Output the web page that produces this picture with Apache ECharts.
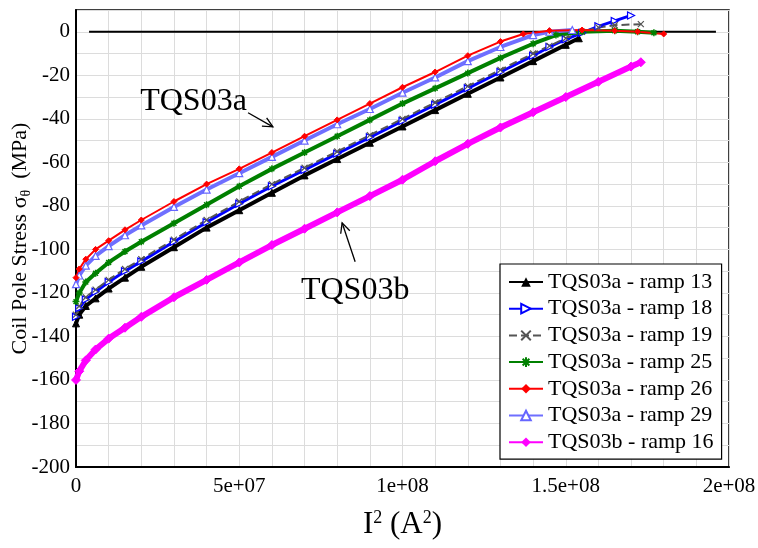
<!DOCTYPE html>
<html>
<head>
<meta charset="utf-8">
<script src="https://cdn.jsdelivr.net/npm/echarts@6/dist/echarts.min.js"></script>
<style>html,body{margin:0;padding:0;background:#fff;}#c{width:758px;height:548px;}</style>
</head>
<body>
<div id="c"></div>
<script>
// ---- data (x in A^2, y in MPa) ----
const ramp13 = [[0,-134],[1e6,-130],[3e6,-126],[6e6,-122.5],[1e7,-118],[1.5e7,-113],[2e7,-108],[3e7,-99],[4e7,-90],[5e7,-82],[6e7,-74],[7e7,-66],[8e7,-58.5],[9e7,-51],[1e8,-43.5],[1.1e8,-36],[1.2e8,-28.5],[1.3e8,-21],[1.4e8,-13.5],[1.5e8,-6],[1.54e8,-3]];
const ramp18 = [[0,-131],[1e6,-127],[3e6,-123],[6e6,-119.5],[1e7,-115],[1.5e7,-110],[2e7,-105.5],[3e7,-96.5],[4e7,-87.5],[5e7,-79],[6e7,-71],[7e7,-63.5],[8e7,-56],[9e7,-48.5],[1e8,-41],[1.1e8,-33.5],[1.2e8,-26],[1.3e8,-18.5],[1.4e8,-11],[1.45e8,-7],[1.5e8,-3.5],[1.55e8,-0.5],[1.6e8,2.5],[1.65e8,5],[1.7e8,7.5]];
const ramp19 = [[0,-130],[1e6,-126],[3e6,-122],[6e6,-118.5],[1e7,-114],[1.5e7,-109],[2e7,-104.5],[3e7,-95.5],[4e7,-86.5],[5e7,-78],[6e7,-70],[7e7,-62.5],[8e7,-55],[9e7,-47.5],[1e8,-40],[1.1e8,-32.5],[1.2e8,-25],[1.3e8,-17.5],[1.4e8,-10],[1.45e8,-6.5],[1.5e8,-3],[1.55e8,0],[1.6e8,2],[1.65e8,3],[1.73e8,3.5]];
const ramp25 = [[0,-124],[1e6,-120],[3e6,-115],[6e6,-111],[1e7,-106],[1.5e7,-101],[2e7,-96.5],[3e7,-88],[4e7,-79.5],[5e7,-71],[6e7,-63],[7e7,-55.5],[8e7,-48],[9e7,-40.5],[1e8,-33],[1.1e8,-26],[1.2e8,-19],[1.3e8,-12],[1.4e8,-5.5],[1.47e8,-1.5],[1.55e8,0],[1.65e8,0.5],[1.72e8,0],[1.77e8,-0.5]];
const ramp26 = [[0,-113],[1e6,-109],[3e6,-104.5],[6e6,-100],[1e7,-96],[1.5e7,-91],[2e7,-86.5],[3e7,-78],[4e7,-70],[5e7,-63],[6e7,-55.5],[7e7,-48],[8e7,-40.5],[9e7,-33],[1e8,-25.5],[1.1e8,-18.5],[1.2e8,-11],[1.3e8,-4.5],[1.37e8,-1],[1.45e8,0.5],[1.55e8,0.8],[1.65e8,0.5],[1.72e8,0],[1.8e8,-1]];
const ramp29 = [[0,-116],[1e6,-112],[3e6,-107.5],[6e6,-103],[1e7,-98.5],[1.5e7,-93.5],[2e7,-89],[3e7,-80.5],[4e7,-72.5],[5e7,-65],[6e7,-57.5],[7e7,-50],[8e7,-42.5],[9e7,-35.5],[1e8,-28],[1.1e8,-21],[1.2e8,-13.5],[1.3e8,-7],[1.4e8,-1.5],[1.45e8,0],[1.52e8,0.8]];
const tqs03b16 = [[0,-160],[1e6,-156],[3e6,-151],[6e6,-146],[1e7,-141],[1.5e7,-136],[2e7,-131],[3e7,-122],[4e7,-114],[5e7,-106],[6e7,-98],[7e7,-90.5],[8e7,-83],[9e7,-75.5],[1e8,-68],[1.1e8,-59.5],[1.2e8,-51.5],[1.3e8,-44],[1.4e8,-37],[1.5e8,-30],[1.6e8,-23],[1.7e8,-16],[1.73e8,-14]];
const zeroLine = [[4e6,0],[1.96e8,0]];

const seriesNames = ['TQS03a - ramp 13','TQS03a - ramp 18','TQS03a - ramp 19','TQS03a - ramp 25','TQS03a - ramp 26','TQS03a - ramp 29','TQS03b - ramp 16'];
const xTickLabels = {0:'0',50000000:'5e+07',100000000:'1e+08',150000000:'1.5e+08',200000000:'2e+08'};
const yTickValues = [-200,-180,-160,-140,-120,-100,-80,-60,-40,-20,0];
const yAxisTitle = 'Coil Pole Stress σ{sub|θ}  (MPa)';

// annotations in data coordinates
const annotations = [
  {text:'TQS03a', at:[3.6e7,-32], from:[5.27e7,-37.2], to:[6.03e7,-43.7]},
  {text:'TQS03b', at:[8.55e7,-119], from:[8.55e7,-105.7], to:[8.15e7,-87.8]}
];

const SERIF = '"Liberation Serif","DejaVu Serif",serif';
const asterisk = 'path://M5,0L5,10M0,5L10,5M1.5,1.5L8.5,8.5M8.5,1.5L1.5,8.5';
const cross = 'path://M0,0L10,10M10,0L0,10';

function mk(name, data, color, symbol, size, opts) {
  return Object.assign({
    name, type:'line', data, symbol, symbolSize:size, showSymbol:true,
    lineStyle:{color, width:3},
    itemStyle:{color, borderColor:color},
    emphasis:{disabled:true}, animation:false
  }, opts||{});
}

const chart = echarts.init(document.getElementById('c'), null, {renderer:'canvas'});
const option = {
  animation:false,
  backgroundColor:'#fff',
  grid:{left:76, right:29, top:10, bottom:81, show:true, borderColor:'#000', borderWidth:1.5, containLabel:false, outerBoundsMode:'none'},
  legend:{
    data:seriesNames, orient:'vertical', left:500, top:264,
    backgroundColor:'#fff', borderColor:'#000', borderWidth:1.2, borderRadius:0,
    padding:[7,8,6,8], itemGap:4.7, itemWidth:34, itemHeight:12,
    textStyle:{fontFamily:SERIF, fontSize:22, color:'#000', lineHeight:22},
    selectedMode:false
  },
  xAxis:{
    type:'value', min:0, max:2e8, interval:1e7,
    axisLine:{show:true, onZero:false, lineStyle:{color:'#000', width:2}},
    axisTick:{show:false},
    splitLine:{show:true, lineStyle:{color:'#dcdcdc', width:1}},
    axisLabel:{fontFamily:SERIF, fontSize:21, color:'#000', margin:9,
      formatter:v => (xTickLabels[v] !== undefined ? xTickLabels[v] : '')},
    name:'I{sup|2} (A{sup|2})', nameLocation:'middle', nameGap:42,
    nameTextStyle:{fontFamily:SERIF, fontSize:31, color:'#000',
      rich:{sup:{fontFamily:SERIF, fontSize:18, color:'#000', verticalAlign:'top', padding:[0,0,14,0]}}}
  },
  yAxis:{
    type:'value', min:-200, max:10, interval:10,
    axisLine:{show:true, onZero:false, lineStyle:{color:'#000', width:2}},
    axisTick:{show:false},
    splitLine:{show:true, lineStyle:{color:'#dcdcdc', width:1}},
    axisLabel:{fontFamily:SERIF, fontSize:21, color:'#000', margin:6,
      formatter:v => (yTickValues.indexOf(v) >= 0 ? String(v) : '')}
  },
  series:[
    {name:'zero', type:'line', data:zeroLine, symbol:'none', lineStyle:{color:'#000', width:2}, z:1, silent:true, animation:false},
    mk(seriesNames[6], tqs03b16, '#ff00ff', 'diamond', 9, {lineStyle:{color:'#ff00ff', width:6}}),
    mk(seriesNames[0], ramp13, '#000000', 'triangle', 7, {lineStyle:{color:'#000', width:4}}),
    mk(seriesNames[1], ramp18, '#0000ff', 'triangle', 7, {symbolRotate:-90, itemStyle:{color:'#fff', borderColor:'#0000ff', borderWidth:1.2}}),
    mk(seriesNames[2], ramp19, '#555555', cross, 6, {lineStyle:{color:'#555', width:2, type:'dashed'}, itemStyle:{color:'#555', borderColor:'#555', borderWidth:1.2}}),
    mk(seriesNames[3], ramp25, '#008000', asterisk, 7, {lineStyle:{color:'#008000', width:4}, itemStyle:{color:'#008000', borderColor:'#008000', borderWidth:1.5}}),
    mk(seriesNames[5], ramp29, '#6666ff', 'triangle', 7, {lineStyle:{color:'#6f6fff', width:4}, itemStyle:{color:'#fff', borderColor:'#6666ff', borderWidth:1.2}}),
    mk(seriesNames[4], ramp26, '#ff0000', 'diamond', 6, {lineStyle:{color:'#ff0000', width:2}})
  ]
};
chart.setOption(option);

const g = [];
// y axis title, centred on the plot's vertical middle
const yMid = chart.convertToPixel({gridIndex:0}, [0, -95])[1];
g.push({type:'text', x:20, y:yMid, rotation:Math.PI/2, z:100,
  style:{text:yAxisTitle, fontFamily:SERIF, fontSize:22, fill:'#000', align:'center', verticalAlign:'middle',
    rich:{sub:{fontFamily:SERIF, fontSize:14, fill:'#000', padding:[12,0,0,0]}}}});

// annotation text + arrows positioned through the chart's own scale
annotations.forEach(a => {
  const p = chart.convertToPixel({gridIndex:0}, a.at);
  const f = chart.convertToPixel({gridIndex:0}, a.from);
  const t = chart.convertToPixel({gridIndex:0}, a.to);
  g.push({type:'text', x:p[0], y:p[1], style:{text:a.text, fontFamily:SERIF, fontSize:32, fill:'#000', align:'center', verticalAlign:'middle'}, z:100});
  g.push({type:'line', shape:{x1:f[0], y1:f[1], x2:t[0], y2:t[1]}, style:{stroke:'#000', lineWidth:1.3}, z:100});
  const ang = Math.atan2(t[1]-f[1], t[0]-f[0]);
  const L = 11, w = 0.45;
  g.push({type:'polyline', shape:{points:[
    [t[0]-L*Math.cos(ang-w), t[1]-L*Math.sin(ang-w)], [t[0], t[1]],
    [t[0]-L*Math.cos(ang+w), t[1]-L*Math.sin(ang+w)]]}, style:{stroke:'#000', lineWidth:1.3, fill:null}, z:100});
});
chart.setOption({graphic:g});
</script>
</body>
</html>
